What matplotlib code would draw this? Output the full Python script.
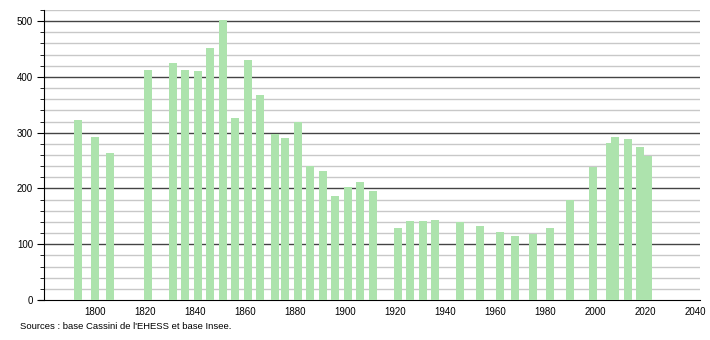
import matplotlib.pyplot as plt
from matplotlib.ticker import MultipleLocator

# census years and population
years = [1793, 1800, 1806, 1821, 1831, 1836, 1841, 1846, 1851, 1856,
         1861, 1866, 1872, 1876, 1881, 1886, 1891, 1896, 1901, 1906,
         1911, 1921, 1926, 1931, 1936, 1946, 1954, 1962, 1968, 1975,
         1982, 1990, 1999, 2006, 2008, 2013, 2018, 2021]
population = [322, 292, 263, 412, 425, 412, 410, 452, 502, 326,
              430, 367, 297, 290, 320, 241, 232, 187, 203, 211,
              196, 130, 142, 142, 144, 140, 133, 122, 115, 119,
              130, 180, 238, 281, 292, 288, 274, 258]
xticks = list(range(1800, 2041, 20))
source = "Sources : base Cassini de l'EHESS et base Insee."

plt.rcParams['font.family'] = ['Liberation Sans', 'DejaVu Sans']

fig = plt.figure(figsize=(7.1, 3.4), dpi=100)
ax = fig.add_axes([0.055, 0.1176, 0.931, 0.853])

ax.bar(years, population, width=3.2, color='#ade3ad', zorder=3)

ax.set_xlim(1777.6, 2042)
ax.set_ylim(0, 520)
ax.set_xticks(xticks)
ax.yaxis.set_major_locator(MultipleLocator(100))
ax.yaxis.set_minor_locator(MultipleLocator(20))

# gridlines only over the plot area, right of the y axis
for v in range(20, 521, 20):
    major = v % 100 == 0
    ax.hlines(v, 1779.6, 2042, color='#444444' if major else '#c8c8c8',
              linewidth=1.0, zorder=1)

for s in ['top', 'right']:
    ax.spines[s].set_visible(False)
ax.spines['left'].set_position(('data', 1779.6))
ax.spines['left'].set_color('black')
ax.spines['bottom'].set_color('black')

ax.tick_params(axis='x', length=0, labelsize=7, pad=5)
ax.tick_params(axis='y', which='major', direction='out', length=5, labelsize=7, pad=3)
ax.tick_params(axis='y', which='minor', direction='out', length=3)

fig.text(0.028, 0.04, source, fontsize=6.8, ha='left', va='center')

fig.savefig('out.png', dpi=100)
